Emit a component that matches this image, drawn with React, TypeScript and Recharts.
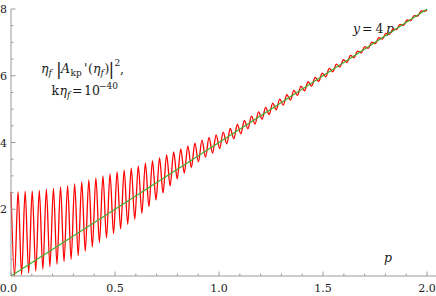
import React from 'react';
import { LineChart, Line, XAxis, YAxis } from 'recharts';

// extrema of the oscillating curve
const peakP = [
  0, 0.034, 0.068, 0.102, 0.136, 0.17, 0.204, 0.238, 0.272, 0.306, 0.34, 0.374, 0.408, 0.442, 0.476,
  0.51, 0.544, 0.578, 0.612, 0.646, 0.68, 0.714, 0.748, 0.782, 0.816, 0.85, 0.884, 0.918, 0.952, 0.986,
  1.02, 1.054, 1.088, 1.122, 1.156, 1.19, 1.224, 1.258, 1.292, 1.326, 1.36, 1.394, 1.428, 1.462, 1.496,
  1.53, 1.564, 1.598, 1.632, 1.666, 1.7, 1.734, 1.768, 1.802, 1.836, 1.87, 1.904, 1.938, 1.972,
];
const peakValue = [
  2.52, 2.53, 2.54, 2.55, 2.575, 2.6, 2.625, 2.67, 2.71, 2.76, 2.82, 2.88, 2.94, 3.0, 3.06,
  3.12, 3.17, 3.23, 3.3, 3.38, 3.45, 3.54, 3.63, 3.72, 3.81, 3.9, 3.98, 4.07, 4.15, 4.23,
  4.31, 4.42, 4.54, 4.66, 4.79, 4.92, 5.05, 5.18, 5.3, 5.43, 5.56, 5.69, 5.82, 5.95, 6.08,
  6.22, 6.35, 6.48, 6.61, 6.74, 6.87, 7.01, 7.14, 7.27, 7.4, 7.54, 7.67, 7.8, 7.94,
];
const troughP = [
  0.017, 0.051, 0.085, 0.119, 0.153, 0.187, 0.221, 0.255, 0.289, 0.323, 0.357, 0.391, 0.425, 0.459, 0.493,
  0.527, 0.561, 0.595, 0.629, 0.663, 0.697, 0.731, 0.765, 0.799, 0.833, 0.867, 0.901, 0.935, 0.969, 1.003,
  1.037, 1.071, 1.105, 1.139, 1.173, 1.207, 1.241, 1.275, 1.309, 1.343, 1.377, 1.411, 1.445, 1.479, 1.513,
  1.547, 1.581, 1.615, 1.649, 1.683, 1.717, 1.751, 1.785, 1.819, 1.853, 1.887, 1.921, 1.955, 1.989,
];
const troughValue = [
  0, 0.04, 0.09, 0.15, 0.21, 0.28, 0.35, 0.43, 0.5, 0.61, 0.74, 0.87, 1.0, 1.14, 1.27,
  1.41, 1.55, 1.7, 1.88, 2.08, 2.28, 2.49, 2.7, 2.91, 3.08, 3.25, 3.42, 3.56, 3.68, 3.82,
  3.96, 4.11, 4.26, 4.41, 4.55, 4.7, 4.84, 4.98, 5.12, 5.27, 5.41, 5.55, 5.69, 5.83, 5.97,
  6.12, 6.26, 6.4, 6.54, 6.68, 6.82, 6.96, 7.1, 7.24, 7.38, 7.51, 7.65, 7.79, 7.93,
];
const endP = 2.0;
const endValue = 7.97;

// y = 4 p
const lineP = [0, 2];
const lineValue = [0, 8];

const xMajorTicks = [0, 0.5, 1, 1.5, 2];
const xMajorLabels = ['0.0', '0.5', '1.0', '1.5', '2.0'];
const xMinorTicks = [0.1, 0.2, 0.3, 0.4, 0.6, 0.7, 0.8, 0.9, 1.1, 1.2, 1.3, 1.4, 1.6, 1.7, 1.8, 1.9];
const yMajorTicks = [2, 4, 6, 8];
const yMajorLabels = ['2', '4', '6', '8'];
const yMinorTicks = [0.5, 1, 1.5, 2.5, 3, 3.5, 4.5, 5, 5.5, 6.5, 7, 7.5];

const redData: { p: number; v: number }[] = [];
peakP.forEach((p, i) => {
  redData.push({ p, v: peakValue[i] });
  redData.push({ p: troughP[i], v: troughValue[i] });
});
redData.push({ p: endP, v: endValue });

const greenData = lineP.map((p, i) => ({ p, v: lineValue[i] }));

const AXIS = '#9a9a9a';
const TEXT = '#1a1a1a';
const FONT = 'DejaVu Serif, serif';

function XTick(props: any) {
  const { x, y, payload } = props;
  const idx = xMajorTicks.indexOf(payload.value);
  const major = idx >= 0;
  return (
    <g>
      <line x1={x} x2={x} y1={y} y2={y - (major ? 4.5 : 2.5)} stroke={AXIS} strokeWidth={1} />
      {major && (
        <text
          x={x + (payload.value === 0 ? -2.5 : 0)}
          y={y + 15.5}
          textAnchor="middle"
          fontFamily={FONT}
          fontSize={11}
          fill={TEXT}
        >
          {xMajorLabels[idx]}
        </text>
      )}
    </g>
  );
}

function YTick(props: any) {
  const { x, y, payload } = props;
  const idx = yMajorTicks.indexOf(payload.value);
  const major = idx >= 0;
  return (
    <g>
      <line x1={x} x2={x + (major ? 4.5 : 2.5)} y1={y} y2={y} stroke={AXIS} strokeWidth={1} />
      {major && (
        <text x={x - 4} y={y + 4} textAnchor="end" fontFamily={FONT} fontSize={11} fill={TEXT}>
          {yMajorLabels[idx]}
        </text>
      )}
    </g>
  );
}

function Annotations() {
  const it = { fontStyle: 'italic' as const };
  return (
    <svg width={436} height={296} style={{ position: 'absolute', left: 0, top: 0 }} fill={TEXT}>
      <text fontSize={12.5} fontFamily={FONT}>
        <tspan x={41} y={73} {...it}>η</tspan>
        <tspan x={48.5} y={76} fontSize={9} {...it}>f</tspan>
        <tspan x={56} y={74.5} fontSize={17}>|</tspan>
        <tspan x={61} y={73} {...it}>A</tspan>
        <tspan x={70.5} y={76} fontSize={9}>kp</tspan>
        <tspan x={84} y={73}>'</tspan>
        <tspan x={88} y={73}>(</tspan>
        <tspan x={93} y={73} {...it}>η</tspan>
        <tspan x={100.5} y={76} fontSize={9} {...it}>f</tspan>
        <tspan x={104.5} y={73}>)</tspan>
        <tspan x={108.5} y={74.5} fontSize={17}>|</tspan>
        <tspan x={114.5} y={66} fontSize={9}>2</tspan>
        <tspan x={120} y={73}>,</tspan>
      </text>
      <text fontSize={12.5} fontFamily={FONT}>
        <tspan x={51.5} y={94.5}>k</tspan>
        <tspan x={59.5} y={94.5} {...it}>η</tspan>
        <tspan x={67} y={97.5} fontSize={9} {...it}>f</tspan>
        <tspan x={72} y={94.5}>=</tspan>
        <tspan x={84} y={94.5}>10</tspan>
        <tspan x={99} y={89} fontSize={9}>−40</tspan>
      </text>
      <text fontSize={12.5} fontFamily={FONT}>
        <tspan x={353} y={33} {...it}>y</tspan>
        <tspan x={362} y={33}>=</tspan>
        <tspan x={375.5} y={33}>4</tspan>
        <tspan x={386} y={33} {...it}>p</tspan>
      </text>
      <text x={384} y={262} fontSize={12.5} fontFamily={FONT} {...it}>p</text>
    </svg>
  );
}

export default function App() {
  const xTicks = [...xMajorTicks, ...xMinorTicks].sort((a, b) => a - b);
  const yTicks = [...yMajorTicks, ...yMinorTicks].sort((a, b) => a - b);

  return (
    <div style={{ position: 'absolute', left: 0, top: 0, width: 436, height: 296, background: '#fff' }}>
      <Annotations />
      <div style={{ position: 'absolute', left: 0, top: 0 }}>
        <LineChart width={436} height={296} margin={{ top: 9, right: 0, bottom: 0, left: 0 }}>
          <XAxis
            dataKey="p"
            type="number"
            domain={[0, 2.043]}
            ticks={xTicks}
            interval={0}
            height={20}
            tickSize={0}
            tickMargin={0}
            tickLine={false}
            axisLine={{ stroke: AXIS }}
            tick={<XTick />}
          />
          <YAxis
            type="number"
            domain={[0, 8]}
            ticks={yTicks}
            interval={0}
            width={11}
            tickSize={0}
            tickMargin={0}
            tickLine={false}
            axisLine={{ stroke: AXIS }}
            tick={<YTick />}
          />
          <Line
            data={redData}
            dataKey="v"
            type="monotone"
            stroke="#ff0000"
            strokeWidth={1.3}
            dot={false}
            activeDot={false}
            isAnimationActive={false}
          />
          <Line
            data={greenData}
            dataKey="v"
            type="linear"
            stroke="#3fae2f"
            strokeWidth={1.2}
            dot={false}
            activeDot={false}
            isAnimationActive={false}
          />
        </LineChart>
      </div>
    </div>
  );
}
